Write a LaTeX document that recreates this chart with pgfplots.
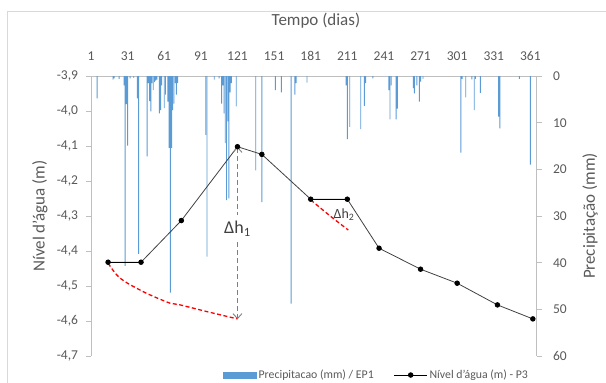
\documentclass[border=0pt]{standalone}
\usepackage{fontspec}
\setmainfont{Carlito}
\usepackage{pgfplots}
\pgfplotsset{compat=1.18}
\usetikzlibrary{arrows.meta}
\definecolor{barblue}{HTML}{5B9BD5}
\definecolor{axgray}{HTML}{BFBFBF}
\definecolor{txtgray}{HTML}{595959}
\definecolor{linegray}{HTML}{404040}
\definecolor{bordergray}{HTML}{D9D9D9}
\definecolor{arrgray}{HTML}{7F7F7F}
\pgfplotsset{
  common/.style={
    scale only axis, width=445.5pt, height=280pt,
    at={(91pt,27pt)}, anchor=south west,
    xmin=1, xmax=366,
    axis line style={draw=axgray, line width=0.8pt},
    tick style={draw=axgray, line width=0.8pt},
    major tick length=5pt, tick align=outside,
    ticklabel style={font=\fontsize{13.5}{15}\selectfont, text=txtgray},
    label style={font=\fontsize{17}{20}\selectfont, text=txtgray},
    /pgf/number format/assume math mode=true,
    scaled ticks=false,
  },
  lineleg/.style={legend image code/.code={\draw[##1, draw=black, mark repeat=2, mark phase=2] plot coordinates {(0pt,0pt) (16.5pt,0pt) (33pt,0pt)};}},
  barleg/.style={legend image code/.code={\fill[barblue] (0pt,-3pt) rectangle (33pt,3pt);}},
}
\begin{document}
\begin{tikzpicture}[x=1pt,y=1pt]
\draw[bordergray, line width=0.8pt] (7,0) -- (7,372) -- (606,372);
\begin{axis}[common,
  axis x line*=top, axis y line*=right,
  ymin=0, ymax=60, y dir=reverse,
  xtick={1,31,...,361}, x tick style={draw=none},
  xticklabel style={yshift=7pt},
  ytick={0,10,...,60},
  yticklabel style={xshift=8pt},
  ylabel={Precipitação (mm)},
  ylabel style={at={(axis description cs:1.12,0.5)}, anchor=center},
]
\addplot[ybar, bar width=0.9pt, fill=barblue, draw=none] coordinates {
(6,4.8) (19,0.8) (20,0.5) (24,0.6) (28,2) (29,40.7) (30,6) (31,14.9) (33,0.5) (36,0.4)
(39,4.8) (40,38.1) (47,17.2) (48,1.5) (49,5.4) (50,7.6) (51,1.5) (52,3) (53,1.3) (54,1)
(55,0.8) (57,8) (58,7.3) (59,2) (61,6.9) (62,4) (64,5.5) (65,15.4) (66,46.4) (67,15.4)
(68,7.3) (69,5.9) (70,1.5) (71,4) (72,1.5) (95,12.6) (96,38.7) (102,0.8) (106,0.5) (108,5.9)
(109,2) (110,8) (111,14.4) (112,26.6) (113,9.7) (114,26.2) (115,3.5) (116,1.5) (120,6.5) (136,20.2)
(141,27) (152,3) (157,3.5) (165,48.8) (168,4) (169,1.5) (178,1.4) (210,2) (211,13.5) (213,10.9)
(222,11.4) (225,6.4) (226,1.5) (232,0.5) (245,3) (246,9.3) (247,2) (251,9.3) (252,7) (265,2.6)
(266,3.7) (268,2) (270,5.5) (271,1.2) (273,0.6) (304,16.4) (305,0.6) (308,4.6) (313,0.7) (315,7.3)
(316,0.6) (320,3.6) (335,8.7) (336,11.2) (352,0.6) (361,19)
};
\end{axis}
\begin{axis}[common,
  axis x line=none, axis y line*=left,
  ymin=-4.7, ymax=-3.9,
  ytick={-4.7,-4.6,-4.5,-4.4,-4.3,-4.2,-4.1,-4.0,-3.9},
  yticklabel style={xshift=-4.5pt, /pgf/number format/fixed, /pgf/number format/fixed zerofill, /pgf/number format/precision=1, /pgf/number format/use comma},
  ylabel={Nível d'água (m)},
  ylabel style={at={(axis description cs:-0.1145,0.5)}, anchor=center},
  title={Tempo (dias)},
  title style={at={(axis description cs:0.505,1.175)}, anchor=center, font=\fontsize{17}{20}\selectfont, text=txtgray},
  legend style={at={(axis description cs:0.2896,-0.068)}, anchor=west, draw=none, fill=none,
    legend columns=2, font=\fontsize{11.8}{13}\selectfont, text=txtgray,
    /tikz/every even column/.append style={column sep=18pt}},
  legend cell align=left,
]
\addlegendimage{barleg}
\addlegendentry{Precipitacao (mm) / EP1}
\addplot[color=linegray, line width=0.8pt, mark=*, mark size=2.3pt, mark options={fill=black, draw=black}, lineleg]
coordinates {
(15,-4.432) (42,-4.432) (75,-4.313) (121,-4.102) (141,-4.124) (181,-4.252) (211,-4.252)
(237,-4.392) (271,-4.452) (301,-4.492) (334,-4.554) (363,-4.594)
};
\addlegendentry{Nível d'água (m) - P3}
\addplot[forget plot, black, line width=1.2pt] coordinates {(15,-4.432) (42,-4.432)};
\addplot[forget plot, black, line width=1.2pt] coordinates {(181,-4.252) (211,-4.252)};
\addplot[forget plot, red, line width=1.3pt, dash pattern=on 4pt off 2.5pt, smooth] coordinates {
(15,-4.435) (22,-4.468) (30,-4.49) (46.6,-4.521) (65.7,-4.549) (74,-4.554) (95.8,-4.573) (121,-4.594)
};
\addplot[forget plot, red, line width=1.3pt, dash pattern=on 4pt off 2.5pt, smooth] coordinates {
(181,-4.254) (190,-4.28) (199.5,-4.307) (211.8,-4.34)
};
\draw[arrgray, line width=0.9pt, dash pattern=on 5pt off 3pt, {Straight Barb[length=5pt,width=9pt]}-] (axis cs:121,-4.102) -- (axis cs:121,-4.297);
\draw[arrgray, line width=0.9pt, dash pattern=on 5pt off 3pt, -{Straight Barb[length=5pt,width=9pt]}] (axis cs:121,-4.374) -- (axis cs:121,-4.595);
\node[text=linegray, font=\fontsize{18}{20}\selectfont] at (axis cs:121,-4.337) {Δh\textsubscript{1}};
\node[text=linegray, font=\fontsize{14}{16}\selectfont] at (axis cs:208.3,-4.297) {Δh\textsubscript{2}};
\end{axis}
\pgfresetboundingbox
\useasboundingbox (0,0) rectangle (606,383);
\end{tikzpicture}
\end{document}
